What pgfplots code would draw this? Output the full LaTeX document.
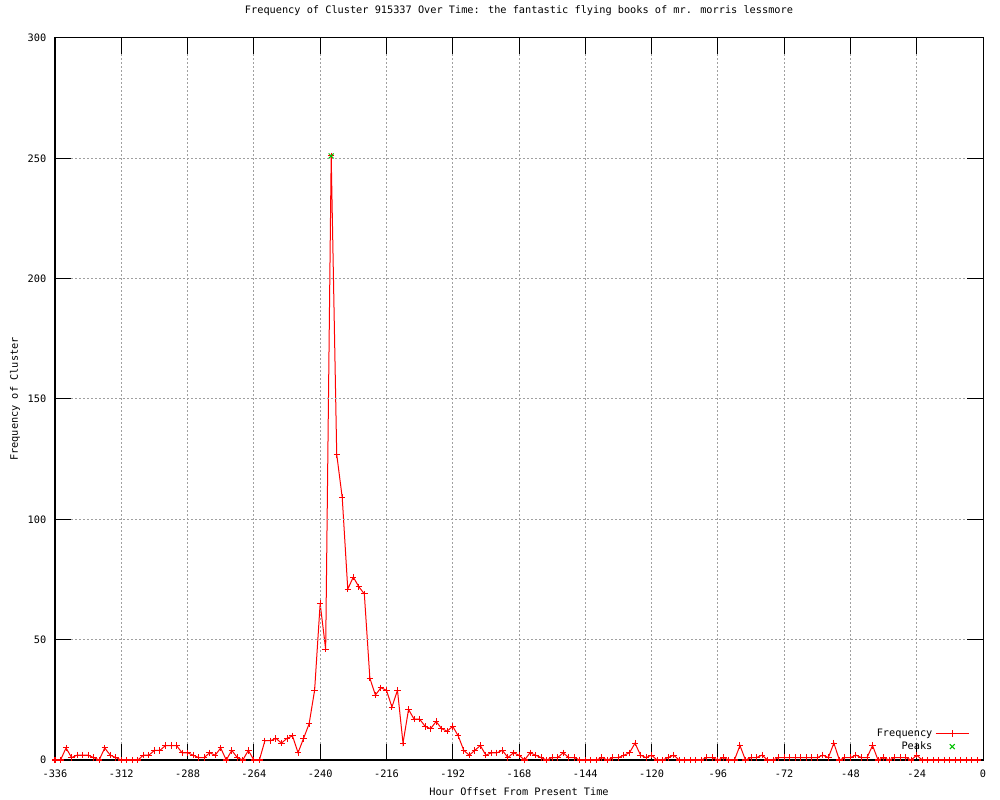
\documentclass[border=0pt]{standalone}
\usepackage{pgfplots}
\pgfplotsset{compat=1.18}
\usepackage{fontspec}
\setmainfont{DejaVu Sans Mono}
\pgfplotstableread{
x y
-336 0
-334 0
-332 5
-330 1
-328 2
-326 2
-324 2
-322 1
-320 0
-318 5
-316 2
-314 1
-312 0
-310 0
-308 0
-306 0
-304 2
-302 2
-300 4
-298 4
-296 6
-294 6
-292 6
-290 3
-288 3
-286 2
-284 1
-282 1
-280 3
-278 2
-276 5
-274 0
-272 4
-270 1
-268 0
-266 4
-264 0
-262 0
-260 8
-258 8
-256 9
-254 7
-252 9
-250 10
-248 3
-246 9
-244 15
-242 29
-240 65
-238 46
-236 251
-234 127
-232 109
-230 71
-228 76
-226 72
-224 69
-222 34
-220 27
-218 30
-216 29
-214 22
-212 29
-210 7
-208 21
-206 17
-204 17
-202 14
-200 13
-198 16
-196 13
-194 12
-192 14
-190 10
-188 4
-186 2
-184 4
-182 6
-180 2
-178 3
-176 3
-174 4
-172 1
-170 3
-168 2
-166 0
-164 3
-162 2
-160 1
-158 0
-156 1
-154 1
-152 3
-150 1
-148 1
-146 0
-144 0
-142 0
-140 0
-138 1
-136 0
-134 1
-132 1
-130 2
-128 3
-126 7
-124 2
-122 1
-120 2
-118 0
-116 0
-114 1
-112 2
-110 0
-108 0
-106 0
-104 0
-102 0
-100 1
-98 1
-96 0
-94 1
-92 0
-90 0
-88 6
-86 0
-84 1
-82 1
-80 2
-78 0
-76 0
-74 1
-72 1
-70 1
-68 1
-66 1
-64 1
-62 1
-60 1
-58 2
-56 1
-54 7
-52 0
-50 1
-48 1
-46 2
-44 1
-42 1
-40 6
-38 0
-36 1
-34 0
-32 1
-30 1
-28 1
-26 0
-24 2
-22 0
-20 0
-18 0
-16 0
-14 0
-12 0
-10 0
-8 0
-6 0
-4 0
-2 0
}\freqdata
\pgfplotstableread{
x y
-236 251
}\peakdata
\definecolor{gpgreen}{RGB}{0,192,0}
\definecolor{gpgrid}{RGB}{160,160,160}
\begin{document}
\begin{tikzpicture}[font=\fontsize{7.7}{9.2}\selectfont]
\useasboundingbox (0,0) rectangle (750pt,600pt);
\begin{axis}[
  at={(41.25pt,30pt)}, anchor=south west,
  scale only axis, width=696pt, height=541.5pt,
  xmin=-336, xmax=0, ymin=0, ymax=300,
  xtick={-336,-312,...,0}, ytick={0,50,...,300},
  /pgf/number format/assume math mode=true,
  /pgf/number format/set thousands separator={},
  tick align=inside, major tick length=12pt,
  tick style={black, line width=0.75pt},
  axis line style={black, line width=0.75pt},
  grid=major,
  major grid style={gpgrid, line width=0.75pt, dash pattern=on 1.3pt off 1.7pt},
  axis on top,
  clip=false,
  xticklabel style={yshift=-4pt},
  yticklabel style={xshift=-3pt},
  title={Frequency of Cluster 915337 Over Time: the fantastic flying books of mr. morris lessmore},
  title style={at={(0.5,1)}, anchor=base, yshift=12pt},
  xlabel={Hour Offset From Present Time},
  xlabel style={at={(0.5,0)}, anchor=base, yshift=-27pt},
  ylabel={Frequency of Cluster},
  ylabel style={at={(axis description cs:-0.0399,0.5)}, anchor=base, rotate=0},
  legend style={draw=none, fill=none, at={(0.99,0.004)}, anchor=south east,
    legend cell align=right, row sep=-1.5pt},
  legend plot pos=right,
  legend image code/.code={\draw[mark repeat=2,mark phase=2,#1] plot coordinates {(0cm,0cm)(0.44cm,0cm)(0.88cm,0cm)};},
]
\addplot[red, line width=0.75pt, mark=+, mark size=2.4pt, mark options={line width=0.75pt}] table[x=x,y=y] {\freqdata};
\addlegendentry{Frequency}
\addplot[gpgreen, only marks, mark=x, mark size=2.6pt, mark options={line width=0.75pt}] table[x=x,y=y] {\peakdata};
\addlegendentry{Peaks}
\end{axis}
\end{tikzpicture}
\end{document}
